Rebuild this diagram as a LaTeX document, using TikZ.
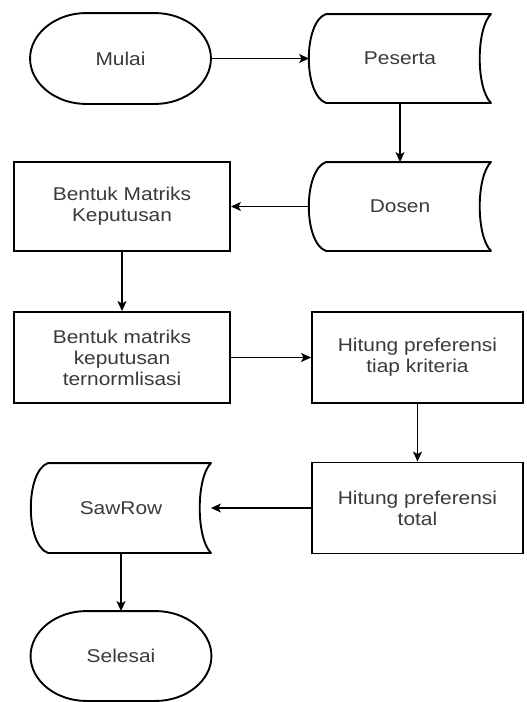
\documentclass[tikz,border=0pt]{standalone}
\usepackage{fontspec}
\setmainfont{Liberation Sans}[FakeStretch=1.13]
\usepackage{tikz}
\usetikzlibrary{
  arrows.meta,
  calc
}
\definecolor{inkgray}{RGB}{58,58,58}

\begin{document}
\begin{tikzpicture}[
            x=1pt, y=-1pt,
            box/.style={draw=black, line width=1.9pt, align=center, text=inkgray, inner sep=0pt, font=\fontsize{18.5}{21}\selectfont},
            term/.style={box, draw=none, minimum width=179pt, minimum height=89pt},
            proc/.style={box, minimum width=211pt, minimum height=90pt},
            store/.style={box, draw=none, minimum width=180pt, minimum height=87pt},
            flow/.style={line width=1.3pt, -{Stealth[length=10pt, width=9pt, inset=2.5pt]}}
        ]
            \useasboundingbox (0,0) rectangle (527,702);
            % Start
            \node[term] (mulai) at (120.5,58.5) {Mulai};
            % Data sources
            \node[store] (peserta) at (400,58.5) {Peserta};
            \node[store] (dosen) at (400,206.5) {Dosen};
            % Left column of steps
            \node[proc, minimum width=216pt, minimum height=89pt] (matriks) at (122,206.5) {
                Bentuk Matriks\\Keputusan
            };
            \node[proc, minimum width=216pt, minimum height=91pt] (norm) at (122,357.5) {
                Bentuk matriks\\keputusan\\ternormlisasi
            };
            % Right column of steps
            \node[proc, minimum height=91pt] (tiap) at (417.5,357.5) {
                Hitung preferensi\\tiap kriteria
            };
            \node[proc, minimum height=91pt] (total) at (417.5,508) {
                Hitung preferensi\\total
            };
            % Result and end
            \node[store, minimum width=178pt, minimum height=88pt] (sawrow) at (121,508) {SawRow};
            \node[term, minimum height=88pt] (selesai) at (121,656) {Selesai};

            % terminal outlines
            \foreach \n in {mulai, selesai} {
                \draw[line width=1.9pt]
                    ($(\n.north west)+(56,0)$) -- ($(\n.north east)+(-56,0)$)
                    .. controls ($(\n.north east)+(-25,0)$) and ($(\n.east)+(0,-24.5)$) .. (\n.east)
                    .. controls ($(\n.east)+(0,24.5)$) and ($(\n.south east)+(-25,0)$) .. ($(\n.south east)+(-56,0)$)
                    -- ($(\n.south west)+(56,0)$)
                    .. controls ($(\n.south west)+(25,0)$) and ($(\n.west)+(0,24.5)$) .. (\n.west)
                    .. controls ($(\n.west)+(0,-24.5)$) and ($(\n.north west)+(25,0)$) .. cycle;
            }
            % stored data outlines
            \foreach \n in {peserta, dosen, sawrow} {
                \draw[line width=1.9pt, line join=round]
                    ($(\n.north west)+(17,0)$) -- (\n.north east)
                    .. controls ($(\n.north east)+(-15,15)$) and ($(\n.south east)+(-15,-15)$) .. (\n.south east)
                    -- ($(\n.south west)+(17,0)$)
                    .. controls ($(\n.south west)+(-6,-8)$) and ($(\n.north west)+(-6,8)$) .. cycle;
            }

            % Connectors
            \draw[flow] (mulai) -- (peserta);
            \draw[flow] (peserta) -- (dosen);
            \draw[flow] (dosen) -- (matriks);
            \draw[flow] (matriks) -- (norm);
            \draw[flow] (norm) -- (tiap);
            \draw[flow] (tiap) -- (total);
            \draw[flow] (total) -- (sawrow);
            \draw[flow] (sawrow) -- (selesai);
        \end{tikzpicture}
\end{document}
